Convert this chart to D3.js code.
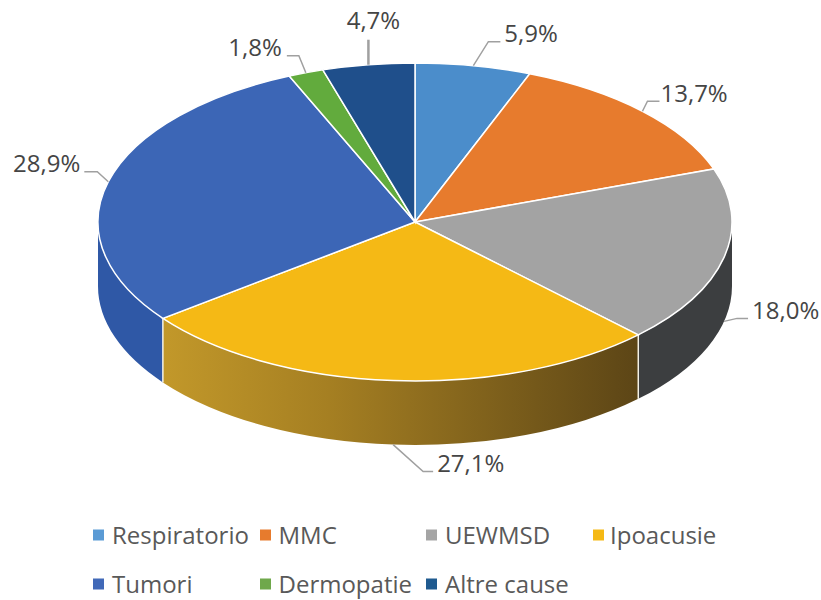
<!DOCTYPE html>
<html>
<head>
<meta charset="utf-8">
<script src="https://cdn.jsdelivr.net/npm/d3@7"></script>
<style>
  html, body { margin: 0; background: #fff; }
  text { font-family: "Open Sans", sans-serif; }
</style>
</head>
<body>
<div id="chart"></div>
<script>
const categories = ['Respiratorio', 'MMC', 'UEWMSD', 'Ipoacusie', 'Tumori', 'Dermopatie', 'Altre cause'];
const values = [5.9, 13.7, 18.0, 27.1, 28.9, 1.8, 4.7];
const valueLabels = ['5,9%', '13,7%', '18,0%', '27,1%', '28,9%', '1,8%', '4,7%'];

const width = 821, height = 600;
const cx = 415, cy = 222, rx = 317, ry = 159, depth = 64;

const topColors = ['#4b8dcb', '#e77b2d', '#a3a3a3', '#f5b915', '#3c66b6', '#62ab3d', '#1f4f8b'];
const wallColors = ['#2f5f8f', '#a04f18', '#3c3e40', 'url(#wall-yellow)', '#2f58a6', '#3f7428', '#153558'];
const legendColors = ['#5b9bd5', '#e77b2d', '#a5a5a5', '#f5b915', '#4169b8', '#6fa84b', '#1f5a8f'];

// leader elbow/end and text spot, as offsets from the slice's anchor on the rim
const leaders = [
  { elbow: [15, -24], end: [27, -24], text: [31, -32], anchor: 'start' },
  { elbow: [5, -10], end: [17, -10], text: [18, -18], anchor: 'start' },
  { elbow: [13, -3], end: [24, -3], text: [28, -11], anchor: 'start' },
  { elbow: [30, 27], end: [40, 27], text: [44, 19], anchor: 'start' },
  { elbow: [-11, -10], end: [-24, -10], text: [-28, -18], anchor: 'end' },
  { elbow: [-7, -17], end: [-19, -17], text: [-24, -25], anchor: 'end' },
  { elbow: [0, -25], end: [0, -25], text: [5, -44], anchor: 'middle' }
];

const legendCols = [93, 260, 426, 593];
const legendRows = [535, 584];
const legendGaps = [19, 18.5, 19, 17];

const color = d3.scaleOrdinal().domain(categories).range(topColors);
const wallColor = d3.scaleOrdinal().domain(categories).range(wallColors);
const legendColor = d3.scaleOrdinal().domain(categories).range(legendColors);
const legendX = (i) => legendCols[i % 4];
const legendY = (i) => legendRows[Math.floor(i / 4)];

const svg = d3.select('#chart').append('svg')
  .attr('width', width)
  .attr('height', height)
  .style('display', 'block');

const grad = svg.append('defs').append('linearGradient')
  .attr('id', 'wall-yellow')
  .attr('gradientUnits', 'userSpaceOnUse')
  .attr('x1', 163).attr('x2', 639)
  .attr('y1', 0).attr('y2', 0);
grad.append('stop').attr('offset', '0%').attr('stop-color', '#c2982a');
grad.append('stop').attr('offset', '35%').attr('stop-color', '#a57f22');
grad.append('stop').attr('offset', '100%').attr('stop-color', '#5c4516');

const pie = d3.pie().sort(null).value((d) => d.value)
  .startAngle(0).endAngle(2 * Math.PI);
const slices = pie(categories.map((name, i) => ({ name, value: values[i], i })));

const rim = (a, dy = 0) => [cx + rx * Math.sin(a), cy - ry * Math.cos(a) + dy];

// Side walls, only the part of each slice that faces front
const wallPath = (d) => {
  const a0 = Math.max(d.startAngle, Math.PI / 2);
  const a1 = Math.min(d.endAngle, 3 * Math.PI / 2);
  if (a1 <= a0) return null;
  const p0 = rim(a0), p1 = rim(a1), q1 = rim(a1, depth), q0 = rim(a0, depth);
  return `M${p0}A${rx},${ry} 0 0 1 ${p1}L${q1}A${rx},${ry} 0 0 0 ${q0}Z`;
};

svg.append('g').selectAll('path')
  .data(slices.filter((d) => wallPath(d)))
  .join('path')
  .attr('d', wallPath)
  .attr('fill', (d) => wallColor(d.data.name));

// White seams where the visible slice borders run down the wall
svg.append('g').selectAll('line')
  .data(slices.filter((d) => d.startAngle > Math.PI / 2 && d.startAngle < 3 * Math.PI / 2))
  .join('line')
  .attr('x1', (d) => rim(d.startAngle)[0])
  .attr('x2', (d) => rim(d.startAngle)[0])
  .attr('y1', (d) => rim(d.startAngle)[1])
  .attr('y2', (d) => rim(d.startAngle, depth)[1])
  .attr('stroke', '#f4f1e6')
  .attr('stroke-width', 1.5);

const arc = d3.arc().innerRadius(0).outerRadius(rx);

svg.append('g')
  .attr('transform', `translate(${cx},${cy}) scale(1,${ry / rx})`)
  .selectAll('path')
  .data(slices)
  .join('path')
  .attr('d', arc)
  .attr('fill', (d) => color(d.data.name))
  .attr('stroke', '#fff')
  .attr('stroke-width', 1.5)
  .attr('vector-effect', 'non-scaling-stroke');

// Leader lines and value labels
const anchorOf = (d) => {
  const mid = (d.startAngle + d.endAngle) / 2;
  const front = Math.cos(mid) < 0 && Math.abs(Math.sin(mid)) < 0.99;
  return rim(mid, front ? depth : 0);
};

const labels = svg.append('g').selectAll('g')
  .data(slices)
  .join('g')
  .attr('transform', (d) => `translate(${anchorOf(d)})`);

labels.append('path')
  .attr('d', (d) => {
    const l = leaders[d.data.i];
    return d3.line()([[0, 0], l.elbow, l.end]);
  })
  .attr('fill', 'none')
  .attr('stroke', '#a0a0a0')
  .attr('stroke-width', (d, i) => (i === 6 ? 2.5 : 1.5));

labels.append('text')
  .attr('x', (d) => leaders[d.data.i].text[0])
  .attr('y', (d) => leaders[d.data.i].text[1])
  .attr('dy', '0.36em')
  .attr('text-anchor', (d) => leaders[d.data.i].anchor)
  .attr('fill', '#454545')
  .style('font-size', '24px')
  .text((d) => valueLabels[d.data.i]);

// Legend
const legend = svg.append('g').selectAll('g')
  .data(categories)
  .join('g')
  .attr('transform', (d, i) => `translate(${legendX(i)},${legendY(i)})`);

legend.append('rect')
  .attr('x', 0).attr('y', -5.5)
  .attr('width', 11).attr('height', 11)
  .attr('fill', (d) => legendColor(d));

legend.append('text')
  .attr('x', (d, i) => legendGaps[i % 4])
  .attr('dy', '0.36em')
  .attr('fill', '#595959')
  .style('font-size', '24px')
  .text((d) => d);
</script>
</body>
</html>
